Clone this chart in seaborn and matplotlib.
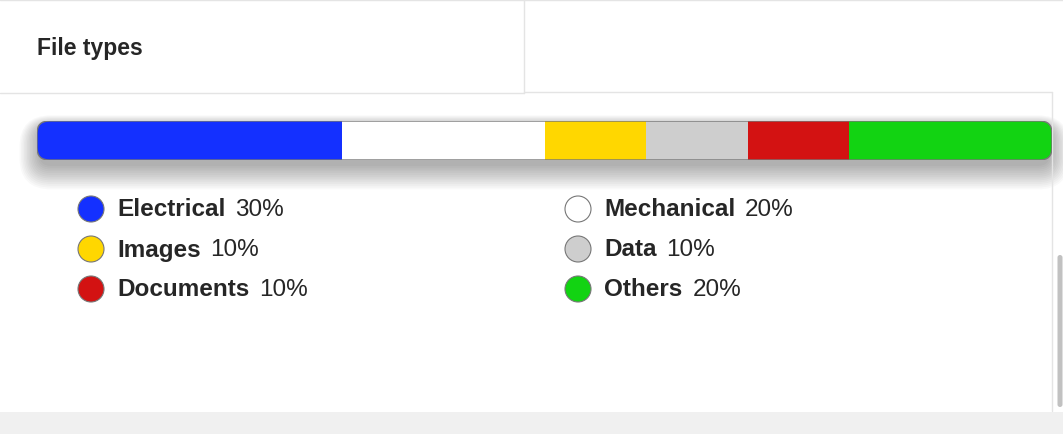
import numpy as np
import matplotlib.pyplot as plt
import seaborn as sns
from matplotlib.patches import FancyBboxPatch, Circle, Rectangle

# File type shares
categories = ['Electrical', 'Mechanical', 'Images', 'Data', 'Documents', 'Others']
shares = [30, 20, 10, 10, 10, 20]
colors = ['#1430ff', '#ffffff', '#ffd700', '#cecece', '#d31212', '#12d312']
legend_order = ['Electrical', 'Mechanical', 'Images', 'Data', 'Documents', 'Others']

sns.set_style('white')
plt.rcParams['font.family'] = ['Liberation Sans', 'DejaVu Sans']

W, H = 1063, 435
fig = plt.figure(figsize=(W / 100, H / 100), dpi=100)

# overlay axes in pixel coordinates
bg = fig.add_axes([0, 0, 1, 1])
bg.set_xlim(0, W)
bg.set_ylim(H, 0)
bg.axis('off')

# page frame
line = '#e4e4e4'
bg.plot([0, W], [1, 1], color=line, lw=1)
bg.plot([524, 524], [0, 94], color=line, lw=1)
bg.plot([0, 524], [94, 94], color=line, lw=1)
bg.plot([524, 1052], [93, 93], color=line, lw=1)
bg.plot([1052, 1052], [93, 412], color=line, lw=1)
bg.add_patch(Rectangle((0, 413), W, 22, color='#f0f0f0', lw=0))
bg.add_patch(FancyBboxPatch((1057.5, 256), 5, 152, boxstyle='round,pad=0,rounding_size=2.5',
                            color='#c1c1c1', lw=0))
bg.text(37, 49, 'File types', fontsize=16.5, fontweight='bold', va='center', ha='left')

# bar shadow
x0, x1, y0, y1 = 37, 1052, 122, 161
for i in range(14):
    pad = i * 1.5
    bg.add_patch(FancyBboxPatch((x0 - pad + 2, y0 + 6 - pad * 0.6), (x1 - x0) - 4 + 2 * pad,
                                (y1 - y0) + 2 * pad * 0.9,
                                boxstyle='round,pad=0,rounding_size=%f' % (12 + pad),
                                color='black', alpha=0.025, lw=0))

# stacked bar
ax = fig.add_axes([x0 / W, 1 - y1 / H, (x1 - x0) / W, (y1 - y0) / H])
ax.set_xlim(0, sum(shares))
ax.set_ylim(-0.5, 0.5)
ax.axis('off')
clip = FancyBboxPatch((0, 0), 1, 1, boxstyle='round,pad=0,rounding_size=0.012',
                      transform=ax.transAxes, facecolor='none', edgecolor='none',
                      mutation_aspect=(x1 - x0) / (y1 - y0))
ax.add_patch(clip)
left = np.cumsum([0] + shares[:-1])
for s, l, c in zip(shares, left, colors):
    b = ax.barh(0, s, left=l, height=1, color=c, lw=0)
    b[0].set_clip_path(clip)
outline = FancyBboxPatch((0, 0), 1, 1, boxstyle='round,pad=0,rounding_size=0.012',
                         transform=ax.transAxes, facecolor='none', edgecolor='#777777', lw=1,
                         mutation_aspect=(x1 - x0) / (y1 - y0))
ax.add_patch(outline)

# legend
fig.canvas.draw()
renderer = fig.canvas.get_renderer()
for i, name in enumerate(legend_order):
    idx = categories.index(name)
    col, row = i % 2, i // 2
    cx = 91 if col == 0 else 578
    cy = 210 + row * 40
    bg.add_patch(Circle((cx, cy), 13, facecolor=colors[idx], edgecolor='#777777', lw=0.8))
    t = bg.text(cx + 26, cy, name, fontsize=17.5, fontweight='bold', va='center', ha='left')
    w = t.get_window_extent(renderer).width
    bg.text(cx + 26 + w + 10, cy, f'{shares[idx]}%', fontsize=17.5, va='center', ha='left')

fig.savefig('out.png', dpi=100)
